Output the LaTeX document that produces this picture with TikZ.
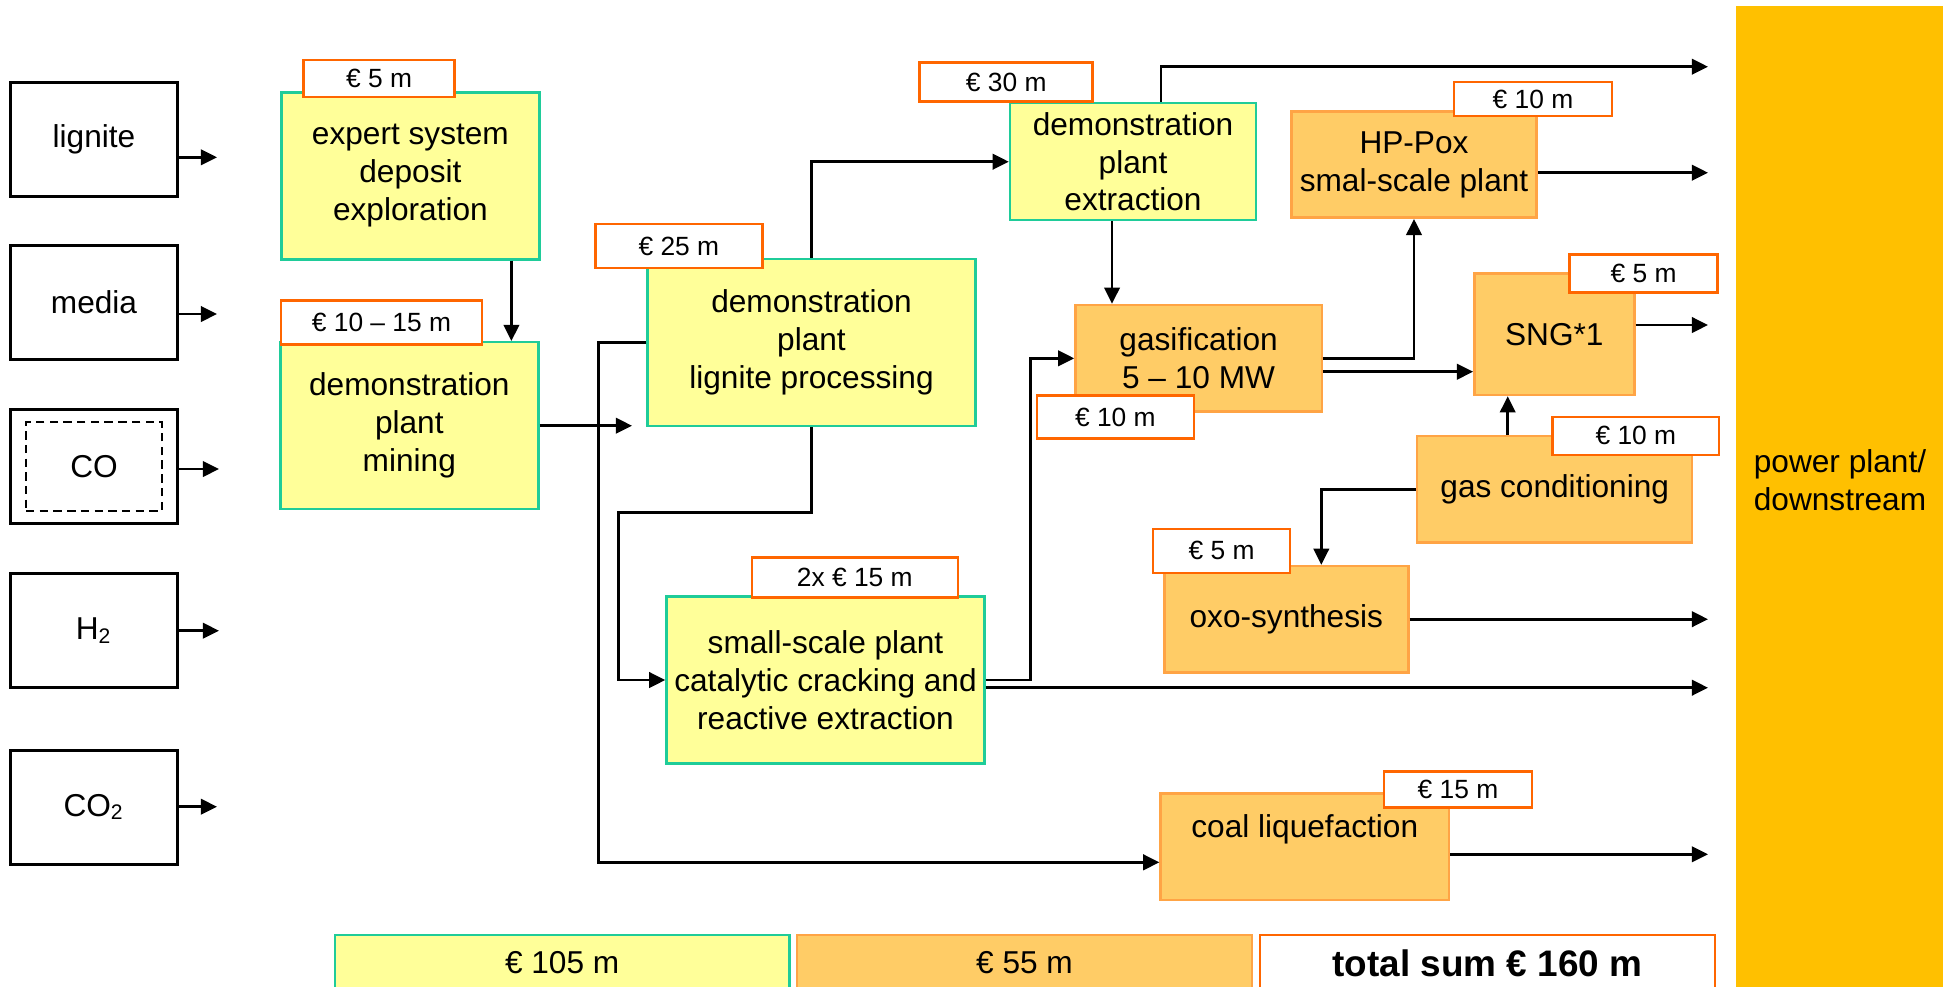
\documentclass[tikz,border=0pt]{standalone}
\usepackage{fontspec}
\setmainfont{Liberation Sans}
\usepackage{tikz}
\usetikzlibrary{arrows.meta}
\definecolor{yfill}{HTML}{FFFF99}
\definecolor{ygreen}{HTML}{1FCC99}
\definecolor{ofill}{HTML}{FFCC66}
\definecolor{oline}{HTML}{FFA445}
\definecolor{cline}{HTML}{FF6600}
\definecolor{barfill}{HTML}{FFC000}

\begin{document}
\begin{tikzpicture}[box/.style={align=center,inner sep=1pt,font=\fontsize{9}{10.8}\selectfont,line width=0.7pt},ybox/.style={box,draw=ygreen,fill=yfill},obox/.style={box,draw=oline,fill=ofill},inbox/.style={box,draw=black,line width=0.85pt,minimum width=1.67cm,minimum height=1.14cm},cost/.style={draw=cline,fill=white,line width=0.7pt,inner sep=0pt,font=\fontsize{7.5}{9}\selectfont},arr/.style={-{Triangle[length=4.6pt,width=4.4pt]},line width=0.75pt}]
\useasboundingbox (0,0) rectangle (19.43,-9.86);
\node[fill=barfill,minimum width=2.16cm,minimum height=9.9cm,inner sep=0pt] (power) at (18.44,-5.01) {};
\node[font=\fontsize{9}{10.8}\selectfont,align=center] (powertext) at (18.40,-4.80) {power plant/\\downstream};
\node[inbox] (lignite) at (0.94,-1.39) {lignite};
\node[inbox] (media) at (0.94,-3.025) {media};
\node[inbox] (co) at (0.94,-4.665) {CO};
\node[draw,line width=0.6pt,dash pattern=on 2.4pt off 1.5pt,minimum width=1.36cm,minimum height=0.89cm] (coinner) at (0.94,-4.665) {};
\node[inbox] (htwo) at (0.94,-6.305) {H\textsubscript{2}};
\node[inbox] (cotwo) at (0.94,-8.07) {CO\textsubscript{2}};
\node[ybox,minimum width=2.58cm,minimum height=1.67cm] (expert) at (4.104,-1.758) {expert system\\deposit\\exploration};
\node[ybox,minimum width=2.58cm,minimum height=1.67cm] (mining) at (4.093,-4.257) {demonstration\\plant\\mining};
\node[ybox,minimum width=3.28cm,minimum height=1.67cm] (proc) at (8.115,-3.425) {demonstration\\plant\\lignite processing};
\node[ybox,minimum width=2.46cm,minimum height=1.17cm] (extr) at (11.33,-1.617) {demonstration\\plant\\extraction};
\node[ybox,minimum width=3.18cm,minimum height=1.67cm] (crack) at (8.255,-6.80) {small-scale plant\\catalytic cracking and\\reactive extraction};
\node[obox,minimum width=2.454cm,minimum height=1.06cm] (hppox) at (14.14,-1.647) {HP-Pox\\smal-scale plant};
\node[obox,minimum width=2.463cm,minimum height=1.067cm] (gasif) at (11.986,-3.583) {gasification\\5 -- 10 MW};
\node[obox,minimum width=1.60cm,minimum height=1.217cm] (sng) at (15.543,-3.342) {SNG*1};
\node[obox,minimum width=2.75cm,minimum height=1.067cm] (gascond) at (15.547,-4.893) {gas conditioning};
\node[obox,minimum width=2.44cm,minimum height=1.063cm] (oxo) at (12.863,-6.192) {oxo-synthesis};
\node[obox,minimum width=2.884cm,minimum height=1.067cm] (coal) at (13.048,-8.467) {};
\node[box] (coaltext) at (13.048,-8.29) {coal liquefaction};
\node[ybox,minimum width=4.545cm,minimum height=0.56cm] (sumy) at (5.622,-9.63) {€ 105 m};
\node[obox,minimum width=4.55cm,minimum height=0.56cm] (sumo) at (10.245,-9.63) {€ 55 m};
\node[box,draw=cline,fill=white,minimum width=4.55cm,minimum height=0.56cm,font=\fontsize{10.5}{12}\selectfont\bfseries] (sumt) at (14.875,-9.63) {total sum € 160 m};
\coordinate (lig) at (2.17,-1.573);
\coordinate (med) at (2.17,-3.14);
\coordinate (coo) at (2.19,-4.69);
\coordinate (hto) at (2.19,-6.307);
\coordinate (cto) at (2.17,-8.067);
\coordinate (procin) at (6.32,-4.257);
\coordinate (out1) at (17.08,-0.667);
\coordinate (out2) at (17.08,-1.727);
\coordinate (out3) at (17.08,-3.25);
\coordinate (out4) at (17.08,-6.193);
\coordinate (out5) at (17.08,-6.877);
\coordinate (out6) at (17.08,-8.543);
\draw[arr] (lignite.east |- lig) -- (lig);
\draw[arr] (media.east |- med) -- (med);
\draw[arr] (co.east |- coo) -- (coo);
\draw[arr] (htwo.east |- hto) -- (hto);
\draw[arr] (cotwo.east |- cto) -- (cto);
\draw[arr] ([xshift=1.01cm]expert.south) -- ([xshift=1.01cm]expert.south |- mining.north);
\draw[arr] (mining.east) -- (procin);
\draw[arr] (proc.north) |- (extr.west);
\draw[arr] (proc.west) -- ++(-0.48,0) |- ([yshift=-0.156cm]coal.west);
\draw[arr] (proc.south) -- ++(0,-0.85) -- ++(-1.93,0) |- (crack.west);
\draw[arr] ([xshift=-0.21cm]extr.south) -- ([xshift=-0.21cm]extr.south |- gasif.north);
\draw[arr] ([xshift=0.28cm]extr.north) |- (out1);
\draw[arr] (crack.east) -- ++(0.45,0) |- (gasif.west);
\draw[arr] (crack.east |- out5) -- (out5);
\draw[arr] (gasif.east) -| (hppox.south);
\draw[arr] ([yshift=-0.134cm]gasif.east) -- ([yshift=-0.134cm]gasif.east -| sng.west);
\draw[arr] (hppox.east |- out2) -- (out2);
\draw[arr] (sng.east |- out3) -- (out3);
\draw[arr] ([xshift=-0.47cm]gascond.north) -- ([xshift=-0.47cm]gascond.north |- sng.south);
\draw[arr] (gascond.west) -| ([xshift=0.35cm]oxo.north);
\draw[arr] (oxo.east) -- (oxo.east -| out4);
\draw[arr] (coal.east |- out6) -- (out6);
\node[cost,minimum width=1.51cm,minimum height=0.37cm] (cexpert) at (3.791,-0.785) {€ 5 m};
\node[cost,minimum width=2.01cm,minimum height=0.44cm] (cmining) at (3.815,-3.227) {€ 10 -- 15 m};
\node[cost,minimum width=1.67cm,minimum height=0.44cm] (cproc) at (6.789,-2.462) {€ 25 m};
\node[cost,minimum width=1.73cm,minimum height=0.394cm] (cextr) at (10.062,-0.82) {€ 30 m};
\node[cost,minimum width=1.58cm,minimum height=0.34cm] (chppox) at (15.33,-0.99) {€ 10 m};
\node[cost,minimum width=1.57cm,minimum height=0.426cm] (cgasif) at (11.154,-4.17) {€ 10 m};
\node[cost,minimum width=1.48cm,minimum height=0.376cm] (csng) at (16.435,-2.735) {€ 5 m};
\node[cost,minimum width=1.666cm,minimum height=0.383cm] (cgascond) at (16.359,-4.359) {€ 10 m};
\node[cost,minimum width=1.37cm,minimum height=0.437cm] (coxo) at (12.216,-5.509) {€ 5 m};
\node[cost,minimum width=2.06cm,minimum height=0.396cm] (ccrack) at (8.548,-5.775) {2x € 15 m};
\node[cost,minimum width=1.48cm,minimum height=0.356cm] (ccoal) at (14.58,-7.895) {€ 15 m};
\end{tikzpicture}
\end{document}
